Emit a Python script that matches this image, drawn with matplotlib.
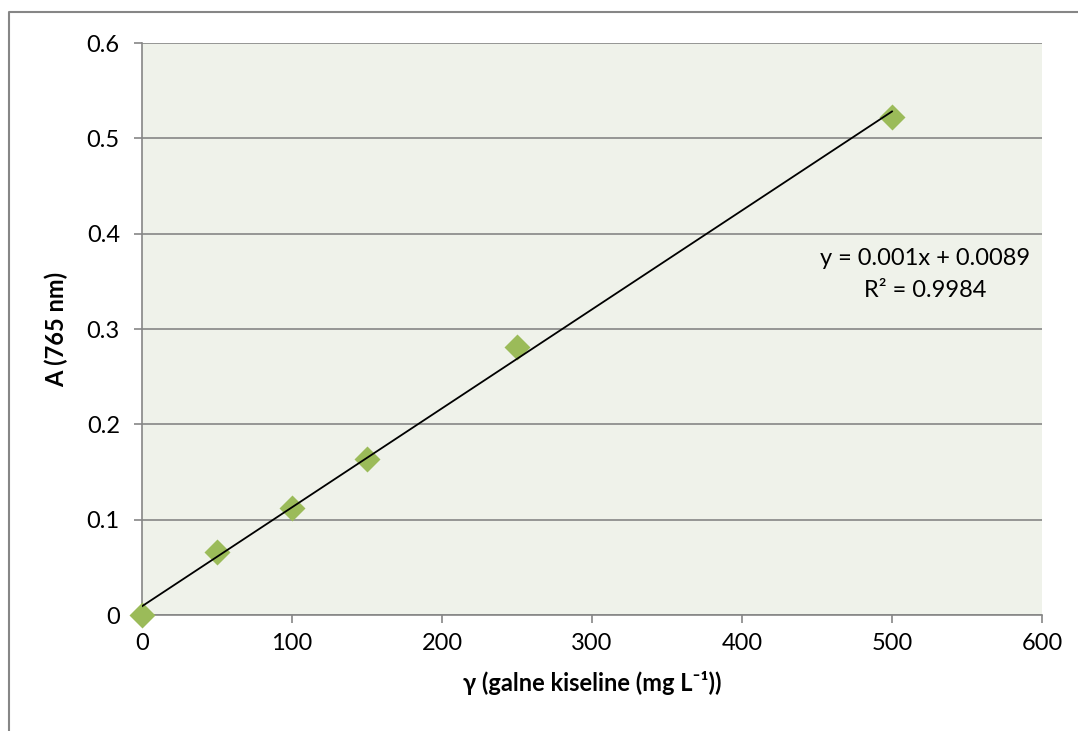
import numpy as np
import matplotlib.pyplot as plt
from matplotlib.lines import Line2D

# calibration data
conc = [0, 50, 100, 150, 250, 500]
absorb = [0.0, 0.066, 0.112, 0.164, 0.281, 0.522]
x_ticks = [0, 100, 200, 300, 400, 500, 600]
y_ticks = [0, 0.1, 0.2, 0.3, 0.4, 0.5, 0.6]
y_labels = ['0', '0.1', '0.2', '0.3', '0.4', '0.5', '0.6']
eq_text = 'y = 0.001x + 0.0089'
r2_text = 'R² = 0.9984'

plt.rcParams['font.family'] = ['Lato', 'DejaVu Sans']
grey = '#868686'
fs = 17

fig = plt.figure(figsize=(10.78, 7.31), dpi=100)
ax = fig.add_axes([142/1078, 116/731, 900/1078, 572/731])
ax.set_facecolor('#EFF2EA')

# trendline
k, n = np.polyfit(conc, absorb, 1)
xs = np.array([min(conc), max(conc)])
ax.plot(xs, k*xs + n, color='black', lw=1.3, zorder=4)
ax.plot(conc, absorb, 'D', color='#9BBB59', ms=13, mec='none', zorder=3, clip_on=False)

ax.set_xlim(0, 600)
ax.set_ylim(0, 0.6)
ax.set_xticks(x_ticks)
ax.set_yticks(y_ticks)
ax.set_yticklabels(y_labels)
ax.yaxis.grid(True, color=grey, lw=1.2, zorder=0)
ax.set_axisbelow(True)
for s in ['top', 'right']:
    ax.spines[s].set_visible(False)
for s in ['left', 'bottom']:
    ax.spines[s].set_color(grey)
    ax.spines[s].set_linewidth(1.2)
ax.tick_params(axis='both', direction='out', color=grey, width=1.2, length=6, labelsize=fs)
ax.tick_params(axis='y', pad=10)
ax.tick_params(axis='x', pad=7)

ax.set_xlabel('γ (galne kiseline (mg L⁻¹))', fontsize=fs, fontweight='bold', labelpad=12)
ax.set_ylabel('A (765 nm)', fontsize=fs, fontweight='bold', labelpad=13)

fig.text(925/1078, 1-258/731, eq_text, ha='center', va='center', fontsize=fs)
fig.text(925/1078, 1-290/731, r2_text, ha='center', va='center', fontsize=fs)

# chart border (clipped by the image on the right and bottom)
fig.add_artist(Line2D([9/1078, 9/1078, 1.0], [0, 1-12/731, 1-12/731], color=grey, lw=1.5))

fig.savefig('out.png', dpi=100)
